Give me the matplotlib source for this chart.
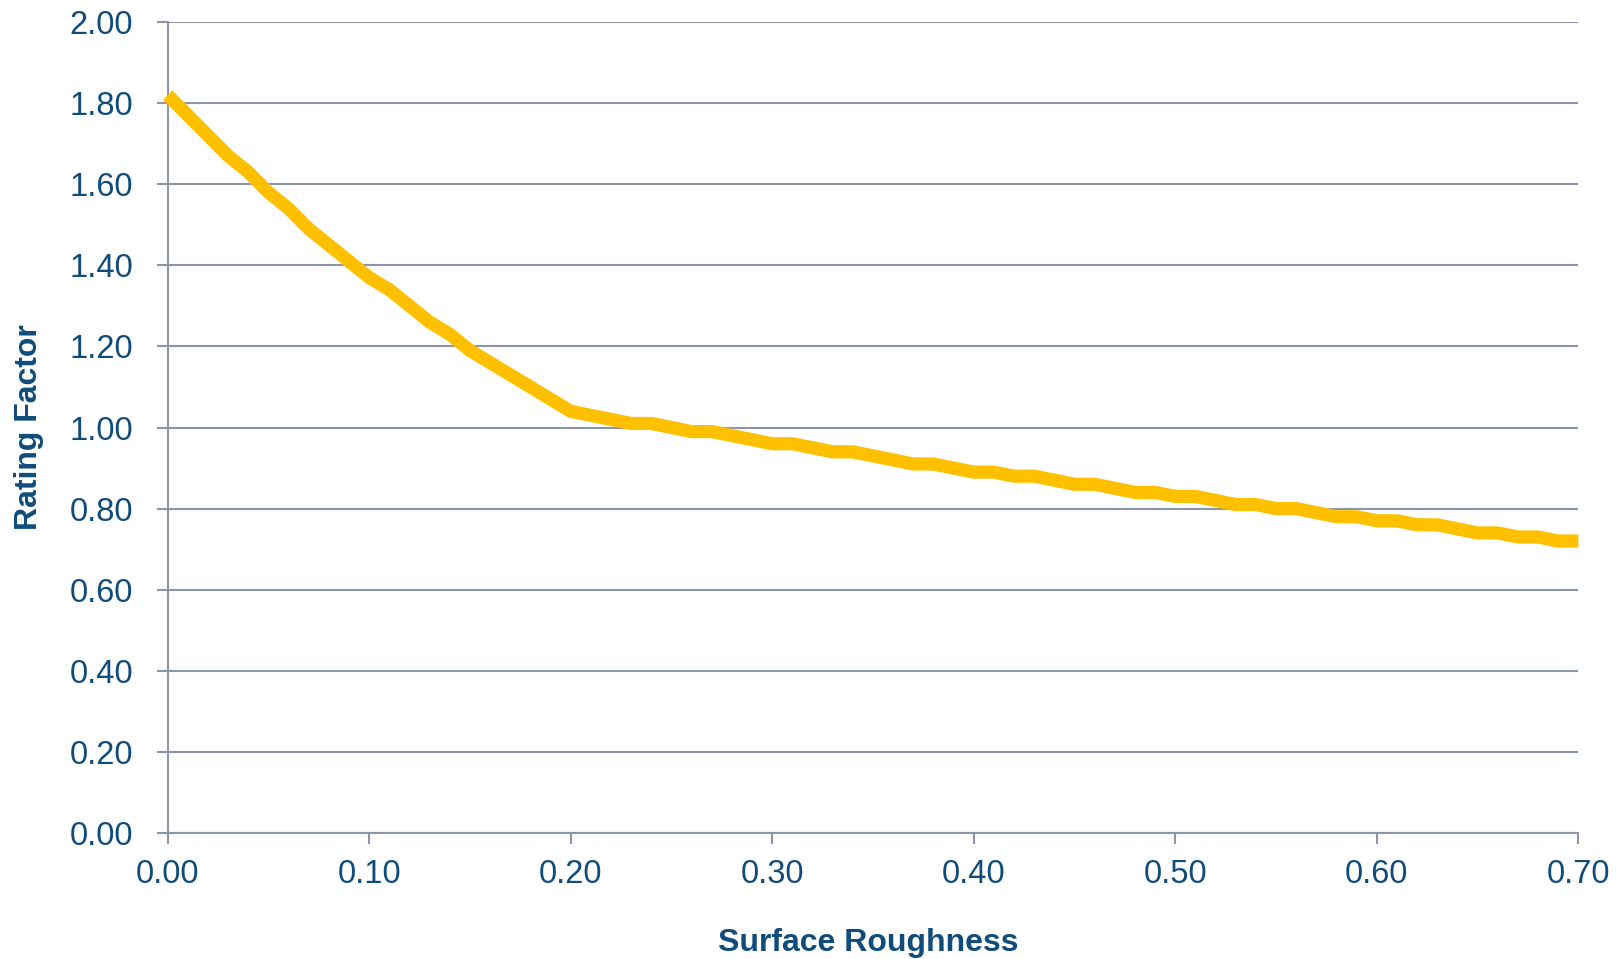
import matplotlib
matplotlib.use("Agg")
import matplotlib.pyplot as plt
import numpy as np

# Rating factor versus surface roughness, sampled every 0.01
roughness = [round(0.01 * i, 2) for i in range(71)]
rating = [
    1.82, 1.77, 1.72, 1.67, 1.63, 1.58, 1.54, 1.49, 1.45, 1.41,
    1.37, 1.34, 1.30, 1.26, 1.23, 1.19, 1.16, 1.13, 1.10, 1.07,
    1.04, 1.03, 1.02, 1.01, 1.01, 1.00, 0.99, 0.99, 0.98, 0.97,
    0.96, 0.96, 0.95, 0.94, 0.94, 0.93, 0.92, 0.91, 0.91, 0.90,
    0.89, 0.89, 0.88, 0.88, 0.87, 0.86, 0.86, 0.85, 0.84, 0.84,
    0.83, 0.83, 0.82, 0.81, 0.81, 0.80, 0.80, 0.79, 0.78, 0.78,
    0.77, 0.77, 0.76, 0.76, 0.75, 0.74, 0.74, 0.73, 0.73, 0.72,
    0.72,
]
x_ticks = [0.0, 0.1, 0.2, 0.3, 0.4, 0.5, 0.6, 0.7]
y_ticks = [0.0, 0.2, 0.4, 0.6, 0.8, 1.0, 1.2, 1.4, 1.6, 1.8, 2.0]

TEXT = "#0F4C7C"
GRID = "#8C96A8"
LINE = "#FFC000"

plt.rcParams["font.family"] = ["Liberation Sans", "DejaVu Sans"]

fig = plt.figure(figsize=(16.23, 9.59), dpi=100)
ax = fig.add_axes([0.1033, 0.1314, 0.8692, 0.8456])

ax.plot(roughness, rating, color=LINE, lw=9.5,
        solid_capstyle="butt", solid_joinstyle="miter", zorder=3, clip_on=False)

ax.set_xlim(0, 0.7)
ax.set_ylim(0, 2.0)
ax.set_xticks(x_ticks)
ax.set_yticks(y_ticks)
ax.set_xticklabels([f"{v:.2f}" for v in x_ticks])
ax.set_yticklabels([f"{v:.2f}" for v in y_ticks])

ax.yaxis.grid(True, color=GRID, lw=1.5)
ax.set_axisbelow(True)
for s in ["top", "right"]:
    ax.spines[s].set_visible(False)
for s in ["left", "bottom"]:
    ax.spines[s].set_color(GRID)
    ax.spines[s].set_linewidth(1.5)

ax.tick_params(axis="both", colors=GRID, length=8, width=1.5,
               labelcolor=TEXT, labelsize=23.5)
ax.tick_params(axis="y", pad=17)
ax.tick_params(axis="x", pad=11)

ax.set_xlabel("Surface Roughness", fontsize=23, fontweight="bold",
              color=TEXT, va="center")
ax.xaxis.set_label_coords(0.4965, -0.1355)
ax.set_ylabel("Rating Factor", fontsize=23, fontweight="bold",
              color=TEXT, labelpad=18)

fig.savefig("out.png", dpi=100)
